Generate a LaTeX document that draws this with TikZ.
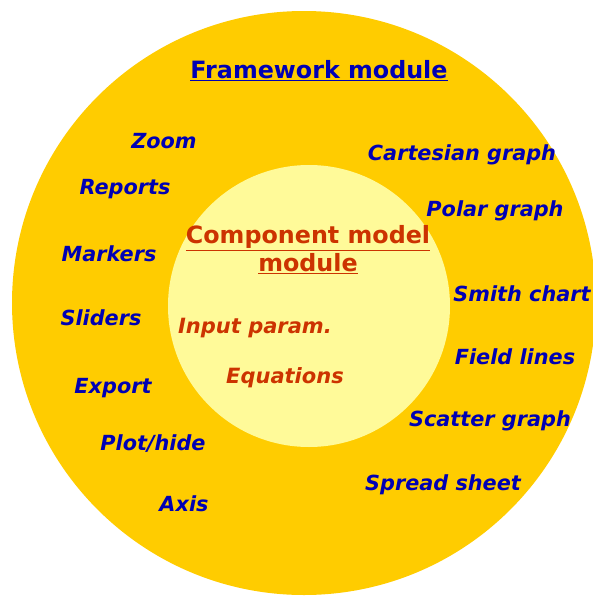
\documentclass[tikz,border=0pt]{standalone}
\usepackage{fontspec}
\setmainfont{DejaVu Sans}
\definecolor{outerring}{HTML}{FFCC00}
\definecolor{innercore}{HTML}{FFFA99}
\definecolor{frameblue}{HTML}{0000B4}
\definecolor{corebrown}{HTML}{CC3300}

\begin{document}
\begin{tikzpicture}[x=1pt, y=-1pt,
    feature/.style={text=frameblue, font=\fontsize{20.8}{24}\selectfont\bfseries\itshape, inner sep=0pt, yshift=-1.5pt},
    coreitem/.style={text=corebrown, font=\fontsize{21}{24}\selectfont\bfseries\itshape, inner sep=0pt, yshift=-1.5pt},
    title/.style={font=\fontsize{23.8}{28}\selectfont\bfseries, inner sep=0pt, align=center}]
            \useasboundingbox (0, 0) rectangle (593, 597);
            \fill[white] (0, 0) rectangle (593, 597);
            % the two rings
            \fill[outerring] (304, 303) circle (292);
            \fill[innercore] (309, 306) circle (141);
            \node[title, text=frameblue] (frame) at (319, 71) {\underline{Framework module}};
            \node[title, text=corebrown] (core) at (308, 250) {\underline{Component model}\\\underline{module}};
            % framework features, left side
            \node[feature] (zoom) at (164, 140) {Zoom};
            \node[feature] (reports) at (125, 188) {Reports};
            \node[feature] (markers) at (109, 252) {Markers};
            \node[feature] (sliders) at (101, 316) {Sliders};
            \node[feature] (export) at (113, 387) {Export};
            \node[feature] (plothide) at (153, 442) {Plot/hide};
            \node[feature] (axis) at (184, 502) {Axis};
            % framework features, right side
            \node[feature] (cartesian) at (462, 153) {Cartesian graph};
            \node[feature] (polar) at (495, 209) {Polar graph};
            \node[feature] (smith) at (522, 292) {Smith chart};
            \node[feature] (field) at (515, 355) {Field lines};
            \node[feature] (scatter) at (490, 419) {Scatter graph};
            \node[feature] (spread) at (443, 483) {Spread sheet};
            % component model
            \node[coreitem] (input) at (255, 327) {Input param.};
            \node[coreitem] (equations) at (285, 376) {Equations};
        \end{tikzpicture}
\end{document}
